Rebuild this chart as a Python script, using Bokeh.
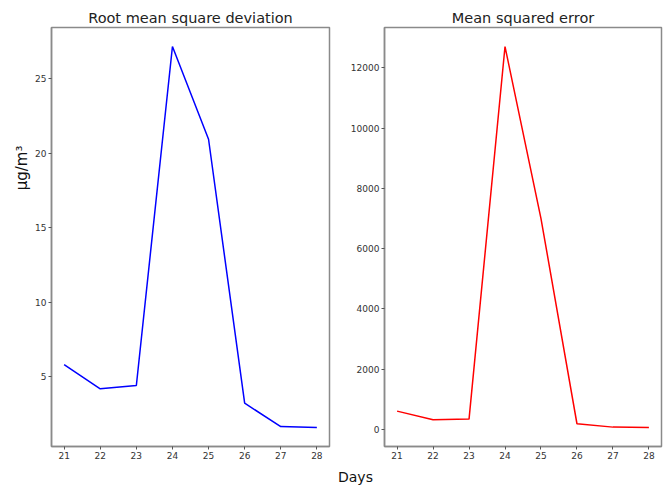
from bokeh.plotting import figure
from bokeh.layouts import row, column
from bokeh.models import FixedTicker, Div, DataRange1d, Title
from bokeh.embed import file_html
from bokeh.resources import INLINE

days = [21, 22, 23, 24, 25, 26, 27, 28]
rmsd = [5.8, 4.17, 4.39, 27.17, 20.94, 3.2, 1.63, 1.57]
mse = [608, 322, 343, 12708, 7000, 189, 77, 66]
rmsd_ticks = [5, 10, 15, 20, 25]
mse_ticks = [0, 2000, 4000, 6000, 8000, 10000, 12000]

FONT = "DejaVu Sans"
EDGE = "#8a8a8a"
H = 464


def make(title, x, y, color, yticks, width, left, right):
    p = figure(width=width, height=H, output_backend="svg", toolbar_location=None,
               min_border_left=left, min_border_right=right, min_border_top=27,
               min_border_bottom=18,
               x_range=DataRange1d(range_padding=0.1), y_range=DataRange1d(range_padding=0.1))
    p.title.text = title
    p.title.align = "center"
    p.title.text_font = FONT
    p.title.text_font_style = "normal"
    p.title.text_font_size = "14.5px"
    p.title.text_color = "#222222"
    p.title.offset = 0
    p.title.standoff = 3
    p.line(x, y, color=color, line_width=1.5)
    p.xgrid.visible = False
    p.ygrid.visible = False
    p.outline_line_color = EDGE
    p.outline_line_width = 1.5
    p.outline_line_alpha = 1
    p.xaxis.ticker = FixedTicker(ticks=x)
    p.yaxis.ticker = FixedTicker(ticks=yticks)
    for ax in (p.xaxis, p.yaxis):
        ax.axis_line_color = EDGE
        ax.axis_line_width = 1.5
        ax.major_tick_line_color = "#555555"
        ax.minor_tick_line_color = None
        ax.major_tick_out = 3
        ax.major_tick_in = 0
        ax.major_label_text_font = FONT
        ax.major_label_text_font_size = "9px"
        ax.major_label_text_color = "#333333"
        ax.major_label_standoff = 2
    p.background_fill_color = "white"
    p.border_fill_color = "white"
    return p


p1 = make("Root mean square deviation", days, rmsd, "#0000ff", rmsd_ticks, 340, 51, 11)
p2 = make("Mean squared error", days, mse, "#ff0000", mse_ticks, 323, 44, 2)

ylab = Title(text="µg/m³", align="right", offset=118, standoff=4,
             text_font=FONT, text_font_size="15px", text_font_style="normal",
             text_color="#111111")
p1.add_layout(ylab, "left")

lbl = Div(text="Days", width=663, height=21, margin=(0, 0, 0, 0),
          styles={"font-family": FONT, "font-size": "14px", "color": "#111111",
                  "padding-left": "338px", "padding-top": "3px", "margin": "0"})

layout = column(row(p1, p2, spacing=0), lbl, spacing=0)

open("out.html", "w").write(file_html(layout, INLINE))
